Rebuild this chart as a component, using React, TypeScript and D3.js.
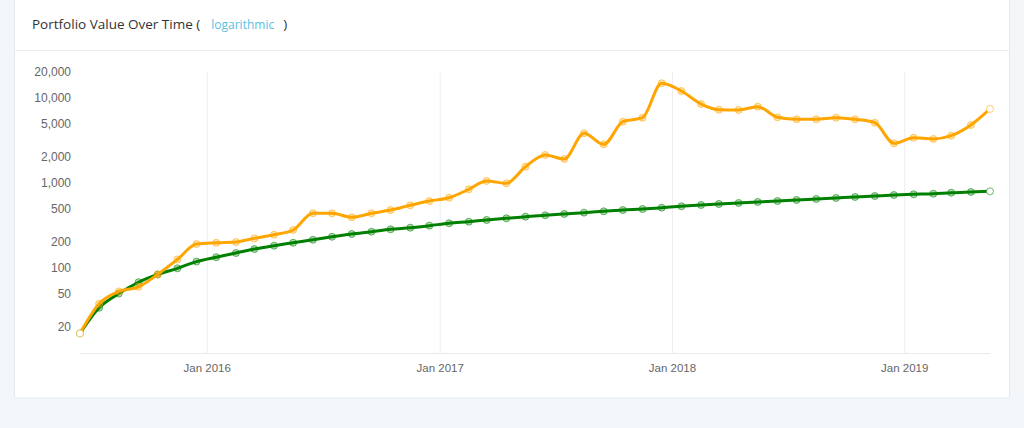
import React from "react";
import * as d3 from "d3";

const startDate = "2015-06-15";
const monthCount = 48;

const portfolioValues = [
  17, 38, 53, 60, 84, 126, 191, 198, 202, 223, 246, 280,
  440, 440, 395, 440, 481, 547, 614, 671, 843, 1057, 991, 1555,
  2135, 1916, 3845, 2851, 5260, 5860, 14900, 12080, 8490, 7280, 7230, 7910,
  5930, 5610, 5610, 5860, 5610, 5120, 2930, 3410, 3300, 3600, 4810, 7430,
];

const contributionValues = [
  17, 34, 50, 68, 84, 99, 119, 134, 150, 167, 183, 198,
  215, 233, 251, 267, 285, 298, 315, 336, 351, 367, 384, 402,
  417, 432, 448, 464, 481, 494, 512, 532, 551, 566, 582, 598,
  614, 631, 648, 666, 685, 703, 722, 736, 748, 769, 784, 798,
];

const yTicks = [20, 50, 100, 200, 500, 1000, 2000, 5000, 10000, 20000];
const xTicks = ["2016-01-01", "2017-01-01", "2018-01-01", "2019-01-01"];

const titleText = "Portfolio Value Over Time (";
const scaleText = "logarithmic";

const parse = d3.timeParse("%Y-%m-%d");
const start = parse(startDate) as Date;
const dates = d3.range(monthCount).map((i) => d3.timeMonth.offset(start, i));

export default function App() {
  const W = 1024;
  const H = 428;
  const left = 80;
  const right = 990;
  const top = 72.4;
  const bottom = 353;

  const x = d3.scaleTime().domain([dates[0], dates[dates.length - 1]]).range([left, right]);
  const y = d3.scaleLog().domain([10, 20000]).range([bottom, top]);

  const line = d3
    .line<number>()
    .x((_, i) => x(dates[i]))
    .y((v) => y(v))
    .curve(d3.curveMonotoneX);

  const fmt = d3.format(",");
  const xfmt = d3.timeFormat("%b %Y");

  const series = [
    { values: contributionValues, color: "#008000", fill: "rgba(0,128,0,0.3)" },
    { values: portfolioValues, color: "#FFA500", fill: "rgba(255,165,0,0.3)" },
  ];

  return (
    <svg
      width={W}
      height={H}
      style={{ position: "absolute", left: 0, top: 0, display: "block" }}
    >
      <rect x={0} y={0} width={W} height={H} fill="#f4f7fa" />
      <rect x={14.5} y={-4} width={995} height={402} rx={3} fill="#ffffff" stroke="#e6eaf0" />
      <line x1={15} x2={1009} y1={50.5} y2={50.5} stroke="#e8ecf1" />
      <text
        x={32}
        y={29}
        fontFamily="'Open Sans', sans-serif"
        fontSize={13.5}
        fill="#333"
      >
        {titleText}
        <tspan dx={11} fill="#5bc0de" fontSize={12}>
          {scaleText}
        </tspan>
        <tspan dx={9}>)</tspan>
      </text>

      {xTicks.map((t) => {
        const d = parse(t) as Date;
        const xx = x(d);
        return (
          <g key={t}>
            <line x1={xx} x2={xx} y1={top} y2={bottom} stroke="#eeeeee" />
            <text
              x={xx}
              y={372}
              textAnchor="middle"
              fontFamily="'Liberation Sans', Arial, sans-serif"
              fontSize={11.5}
              fill="#666"
            >
              {xfmt(d)}
            </text>
          </g>
        );
      })}
      <line x1={left} x2={right} y1={bottom + 0.5} y2={bottom + 0.5} stroke="#eaeaea" />

      {yTicks.map((t) => (
        <text
          key={t}
          x={71}
          y={y(t) + 4}
          textAnchor="end"
          fontFamily="'Liberation Sans', Arial, sans-serif"
          fontSize={12}
          fill="#666"
        >
          {fmt(t)}
        </text>
      ))}

      {series.map((s, si) => (
        <g key={si}>
          <path d={line(s.values) || ""} fill="none" stroke={s.color} strokeWidth={3} />
          {s.values.map((v, i) => (
            <circle
              key={i}
              cx={x(dates[i])}
              cy={y(v)}
              r={3.5}
              fill={i === 0 || i === s.values.length - 1 ? "#fff" : s.fill}
              stroke={s.color}
              strokeOpacity={0.55}
              strokeWidth={1}
            />
          ))}
        </g>
      ))}
    </svg>
  );
}
